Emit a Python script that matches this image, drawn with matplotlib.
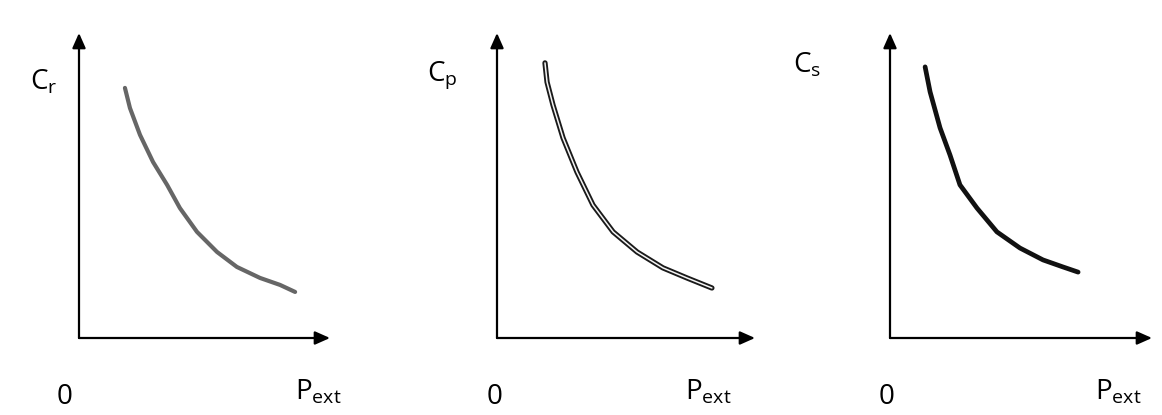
import matplotlib.pyplot as plt

plt.rcParams['font.family'] = ['Open Sans', 'DejaVu Sans']
plt.rcParams['mathtext.fontset'] = 'custom'
plt.rcParams['mathtext.rm'] = 'Open Sans'

W, H = 1162, 415

# curve data (arbitrary units, 0..1 along each axis)
cr_x = [0.183, 0.203, 0.243, 0.295, 0.351, 0.402, 0.470, 0.550, 0.629, 0.721, 0.801, 0.861]
cr_y = [0.820, 0.754, 0.666, 0.577, 0.502, 0.426, 0.348, 0.282, 0.233, 0.197, 0.174, 0.151]

cp_x = [0.186, 0.194, 0.217, 0.256, 0.310, 0.372, 0.450, 0.543, 0.643, 0.736, 0.833]
cp_y = [0.902, 0.839, 0.764, 0.656, 0.544, 0.436, 0.348, 0.282, 0.230, 0.197, 0.164]

cs_x = [0.134, 0.153, 0.191, 0.229, 0.267, 0.332, 0.408, 0.496, 0.584, 0.660, 0.718]
cs_y = [0.889, 0.807, 0.689, 0.600, 0.502, 0.426, 0.348, 0.295, 0.256, 0.233, 0.216]

y_labels = [r'$\mathrm{C_r}$', r'$\mathrm{C_p}$', r'$\mathrm{C_s}$']
x_label = r'$\mathrm{P_{ext}}$'
origin_label = '0'

fig = plt.figure(figsize=(W / 100, H / 100), dpi=100)


def px(x, y):
    return x / W, 1 - y / H


# panel boxes in pixels: y-axis x, x-axis y, arrow tip x, arrow tip y
boxes = [(79, 338, 330, 33), (497, 338, 755, 33), (890, 338, 1152, 33)]
axes = []
for (x0, y0, x1, y1) in boxes:
    ax = fig.add_axes([x0 / W, 1 - y0 / H, (x1 - x0) / W, (y0 - y1) / H])
    ax.set_xlim(0, 1)
    ax.set_ylim(0, 1)
    ax.axis('off')
    arrow = dict(arrowstyle='-|>,head_length=0.9,head_width=0.4', color='black',
                 lw=1.6, shrinkA=0, shrinkB=0)
    ax.annotate('', xy=(1, 0), xytext=(0, 0), arrowprops=arrow, annotation_clip=False)
    ax.annotate('', xy=(0, 1), xytext=(0, 0), arrowprops=arrow, annotation_clip=False)
    axes.append(ax)

# curves
axes[0].plot(cr_x, cr_y, color='#666666', lw=3.0, solid_capstyle='round',
             solid_joinstyle='round')
axes[1].plot(cp_x, cp_y, color='#1a1a1a', lw=3.8, solid_capstyle='round',
             solid_joinstyle='round')
axes[1].plot(cp_x, cp_y, color='#f4f4f4', lw=1.1, solid_capstyle='round',
             solid_joinstyle='round')
axes[2].plot(cs_x, cs_y, color='#111111', lw=3.4, solid_capstyle='round',
             solid_joinstyle='round')

# labels
ylab_pos = [(30, 82), (427, 75), (793, 65)]
for lab, (x, y) in zip(y_labels, ylab_pos):
    fig.text(*px(x, y), lab, fontsize=20, ha='left', va='center')

zero_pos = [65, 495, 887]
for x in zero_pos:
    fig.text(*px(x, 397), origin_label, fontsize=20, ha='center', va='center')

pext_pos = [295, 685, 1095]
for x in pext_pos:
    fig.text(*px(x, 392), x_label, fontsize=20, ha='left', va='center')

fig.savefig('out.png', dpi=100, facecolor='white')
